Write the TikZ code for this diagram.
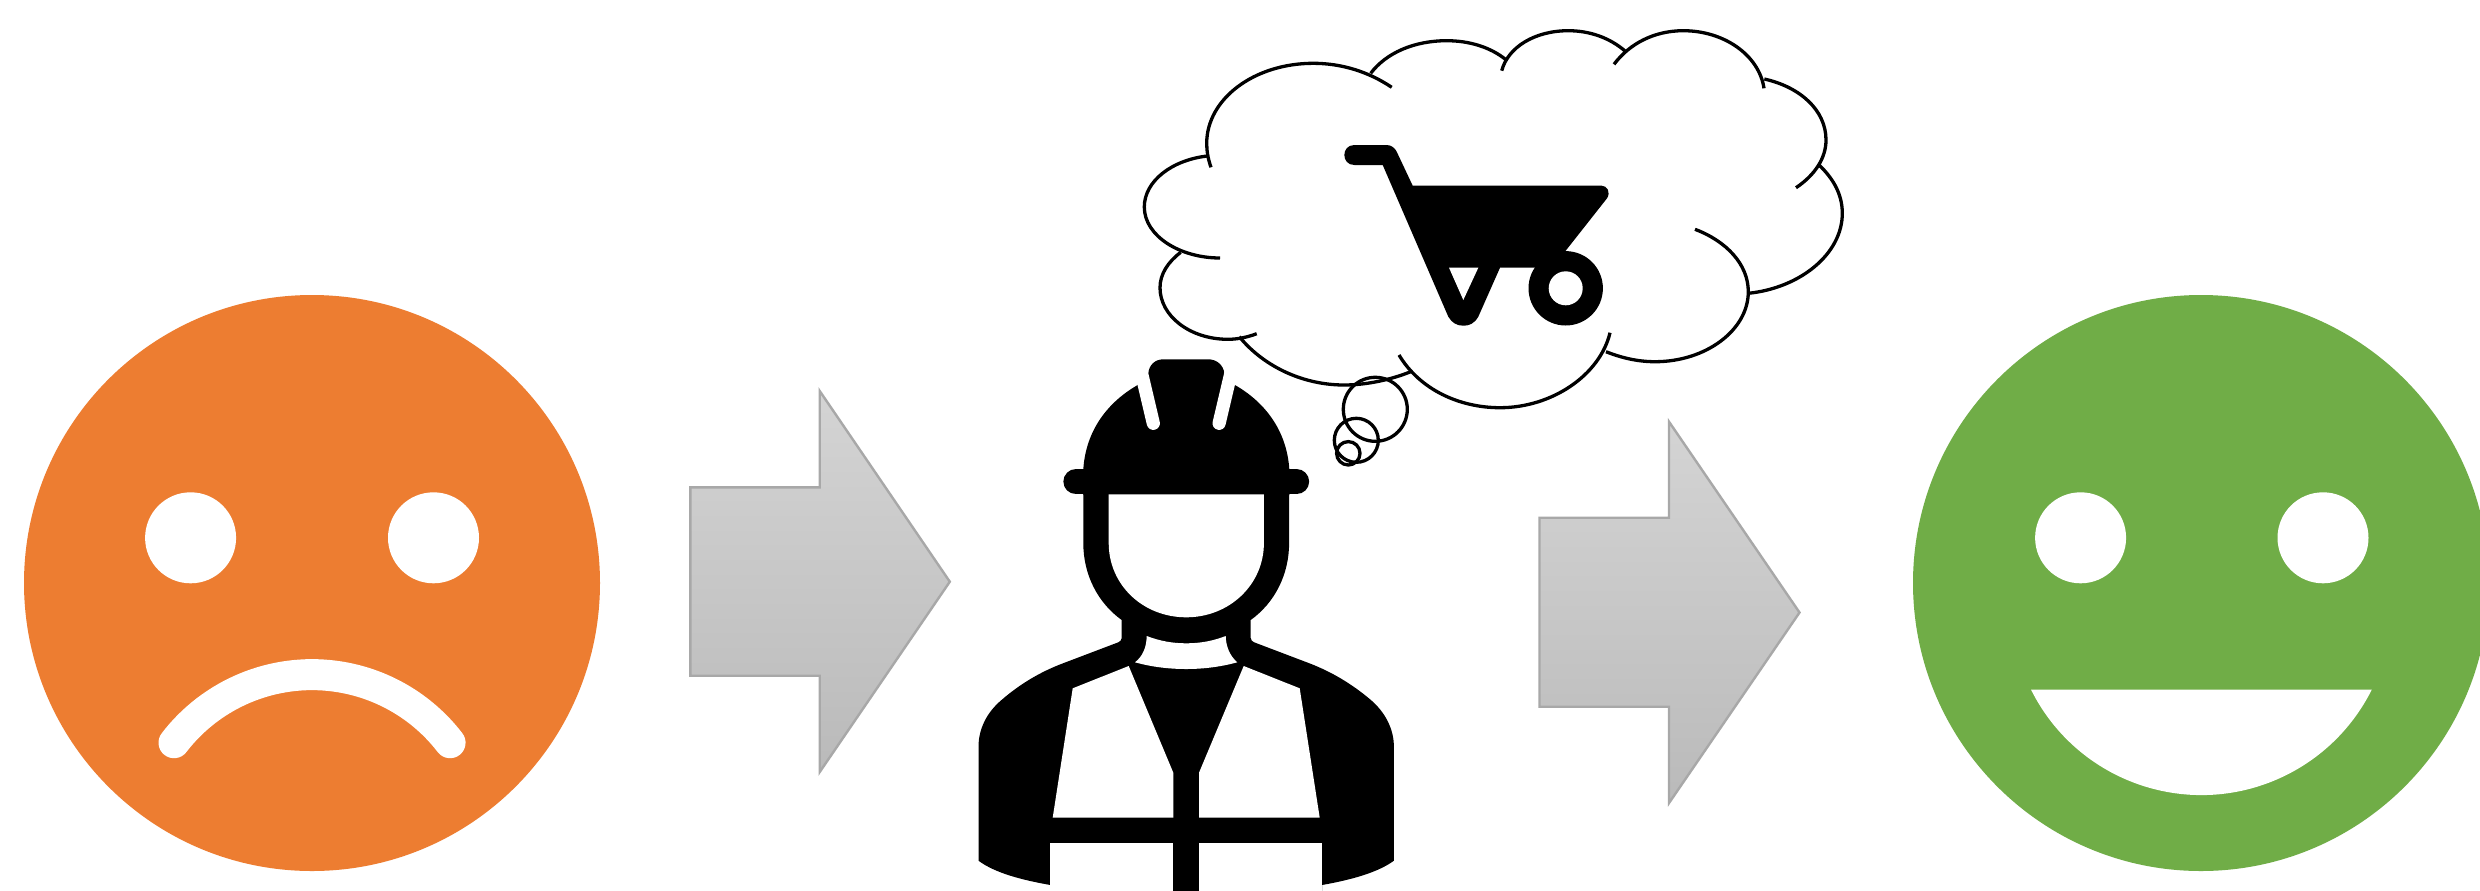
\documentclass[tikz,border=0pt]{standalone}
\definecolor{sadorange}{HTML}{ED7D31}
\definecolor{happygreen}{HTML}{70AD47}
\definecolor{arrowedge}{HTML}{A8A8A8}
\definecolor{arrowtop}{HTML}{D4D4D4}
\definecolor{arrowbot}{HTML}{BABABA}
\tikzset{
  blockarrow/.style={draw=arrowedge,line width=1.2pt,top color=arrowtop,bottom color=arrowbot,miter limit=10},
  cloudline/.style={draw=black,line width=1.65pt,line cap=butt},
  hole/.style={fill=white,draw=none},
  solid black/.style={fill=black,draw=none}
}
\begin{document}
\begin{tikzpicture}[x=0.5pt,y=-0.5pt]
\useasboundingbox (0,0) rectangle (2480,890);
\fill[white] (0,0) rectangle (2480,890);
\clip (0,0) rectangle (2480,890);

% sad face
\fill[sadorange] (312,583) circle[radius=288];
\fill[white] (190.6,537.8) circle[radius=45.5];
\fill[white] (433.5,537.8) circle[radius=45.5];
\draw[white,line width=15.5pt,line cap=round] (174,742.7) arc[start angle=217.5,end angle=322.5,radius=174];

% happy face
\fill[happygreen] (2201,583) circle[radius=288];
\fill[white] (2080.6,537.8) circle[radius=45.5];
\fill[white] (2323,537.8) circle[radius=45.5];
\fill[white] (2031,689.6) arc[start angle=153.5,end angle=26.5,radius=190.4] -- cycle;

% block arrows
\path[blockarrow] (690.3,487.3) -- (819.7,487.3) -- (819.7,391) -- (949.8,581.7) -- (819.7,772) -- (819.7,675.7) -- (690.3,675.7) -- cycle;
\path[blockarrow] (1539.5,517.7) -- (1669,517.7) -- (1669,421.7) -- (1799.5,612.5) -- (1669,803) -- (1669,706.7) -- (1539.5,706.7) -- cycle;

% worker: silhouette
\path[solid black] (1083.3,480) -- (1083.3,543) .. controls (1083.3,575) and (1098,603) .. (1121.7,620)
  -- (1121.7,638) .. controls (1121.7,640) and (1120,641.6) .. (1118.3,642.3)
  -- (1063,663.3) .. controls (1040,672) and (1020,684) .. (1001.5,700)
  .. controls (986,713) and (978.5,730) .. (978.5,746.7)
  -- (978.5,860.7) .. controls (995,873) and (1022,880) .. (1050.4,885) -- (1050.4,891)
  -- (1322,891) -- (1322,885) .. controls (1350,880) and (1377,873) .. (1393.9,860.7)
  -- (1393.9,746.7) .. controls (1393.9,730) and (1386,713) .. (1370.9,700)
  .. controls (1352,684) and (1332,672) .. (1309.4,663.3)
  -- (1254.1,642.3) .. controls (1252.4,641.6) and (1250.7,640) .. (1250.7,638)
  -- (1250.7,620) .. controls (1274.4,603) and (1289.1,575) .. (1289.1,543)
  -- (1289.1,480) -- cycle;
% hard hat
\path[solid black] (1083.3,495) -- (1083.3,469) .. controls (1086,430) and (1108,402) .. (1137.7,385)
  -- (1148.3,373.3) .. controls (1149,365) and (1155,359.3) .. (1163.3,359.3)
  -- (1208.3,359.3) .. controls (1216.5,359.3) and (1223.5,365) .. (1224.3,373.3)
  -- (1234.9,385) .. controls (1264.6,402) and (1286.6,430) .. (1289.3,469) -- (1289.3,495) -- cycle;
\draw[line width=12.65pt,line cap=round] (1076,481.7) -- (1296.5,481.7);
\draw[white,line width=6.6pt,line cap=round] (1153.3,423.3) -- (1138.4,360);
\draw[white,line width=6.6pt,line cap=round] (1219.1,423.3) -- (1234,360);
% face, collar, vest
\path[hole] (1108.7,494.3) -- (1108.7,543) .. controls (1108.7,585) and (1143,617.3) .. (1186.3,617.3)
  .. controls (1229,617.3) and (1263.9,585) .. (1263.9,543) -- (1263.9,494.3) -- cycle;
\path[hole] (1146.7,636) .. controls (1160,641) and (1172,643.3) .. (1186.3,643.3)
  .. controls (1200,643.3) and (1213,641) .. (1225.7,636)
  .. controls (1226,647) and (1230,656) .. (1237.3,662.3)
  .. controls (1220,667) and (1203,669) .. (1186.3,669)
  .. controls (1169,669) and (1152,667) .. (1135,662.3)
  .. controls (1143,656) and (1146.5,647) .. (1146.7,636) -- cycle;
\path[hole] (1052.7,817.7) -- (1072.7,688.3) -- (1128.7,666) -- (1173.3,772.7) -- (1173.3,817.7) -- cycle;
\path[hole] (1319.7,817.7) -- (1299.7,688.3) -- (1243.7,666) -- (1199,772.7) -- (1199,817.7) -- cycle;
\path[hole] (1050.4,843.3) -- (1173.3,843.3) -- (1173.3,892) -- (1050.4,892) -- cycle;
\path[hole] (1199,843.3) -- (1322.2,843.3) -- (1322.2,892) -- (1199,892) -- cycle;

% cart
\path[solid black] (1354.3,145) -- (1386.7,145) .. controls (1391,145) and (1395,148) .. (1396.7,151.7)
  -- (1412.7,185.7) -- (1601.7,185.7) .. controls (1607,185.7) and (1611,192) .. (1607,198.3)
  -- (1565.7,250.7) -- (1560,267.7) -- (1500,267.7) -- (1478.3,316.7)
  .. controls (1474,324) and (1469,325.7) .. (1463.3,325.7)
  .. controls (1457,325.7) and (1452,323) .. (1448.3,316.7)
  -- (1382.7,165) -- (1354.3,165) .. controls (1341,165) and (1341,145) .. (1354.3,145) -- cycle;
\path[hole] (1449,267.7) -- (1478.3,267.7) -- (1463.3,300) -- cycle;
\fill[black] (1565.7,288.3) circle[radius=37.2];
\fill[white] (1565.7,288.3) circle[radius=17];

% thought cloud
\draw[cloudline] (1211,167.3) .. controls (1208,159) and (1206.7,151) .. (1206.7,143.3) .. controls (1206.7,99) and (1254,63.3) .. (1313.3,63.3) .. controls (1342,63.3) and (1369,72) .. (1391.7,87.3);
\draw[cloudline] (1207.3,156) .. controls (1172,160) and (1144.3,181) .. (1144.3,207) .. controls (1144.3,236) and (1180,258) .. (1220,258);
\draw[cloudline] (1180.7,252.3) .. controls (1168,262) and (1160,274) .. (1160,287.7) .. controls (1160,316) and (1190,339.3) .. (1228,339.3) .. controls (1238,339.3) and (1248,337) .. (1256.7,333.7);
\draw[cloudline] (1239.3,336.7) .. controls (1265,368) and (1305,385) .. (1344,385) .. controls (1366,385) and (1390,380) .. (1410.7,371.7);
\draw[cloudline] (1399,355) .. controls (1420,390) and (1460,407.7) .. (1500,407.7) .. controls (1552,407.7) and (1600,375) .. (1610,332.7);
\draw[cloudline] (1606,351.7) .. controls (1622,358) and (1638,361.7) .. (1655,361.7) .. controls (1706,361.7) and (1748.3,330) .. (1748.3,291.7) .. controls (1748.3,264) and (1726,241) .. (1695,229.3);
\draw[cloudline] (1748.3,293.3) .. controls (1800,288) and (1842.3,254) .. (1842.3,213.3) .. controls (1842.3,195) and (1834,179) .. (1818.3,164.3);
\draw[cloudline] (1796,187.7) .. controls (1815,175) and (1826,158) .. (1826,140) .. controls (1826,110) and (1800,87) .. (1764.3,79);
\draw[cloudline] (1764,88.3) .. controls (1759,55) and (1724,30.7) .. (1683.3,30.7) .. controls (1655,30.7) and (1630,43) .. (1614,64.3);
\draw[cloudline] (1625,51) .. controls (1610,38) and (1590,30.7) .. (1568.3,30.7) .. controls (1535,30.7) and (1508,47) .. (1501.7,70.7);
\draw[cloudline] (1505.4,59.3) .. controls (1490,47) and (1469,40.7) .. (1446.7,40.7) .. controls (1414,40.7) and (1386,53) .. (1370.7,73.3);
% thought bubbles
\draw[cloudline] (1375.3,409.3) circle[radius=32];
\draw[cloudline] (1356.3,440.3) circle[radius=22];
\draw[cloudline] (1348.3,453.3) circle[radius=11.7];
\end{tikzpicture}
\end{document}
